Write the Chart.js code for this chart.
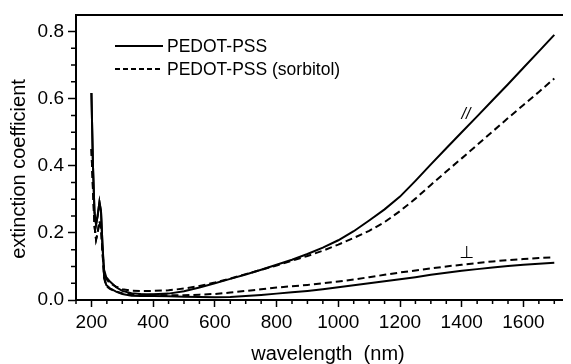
<!DOCTYPE html>
<html>
<head>
<meta charset="utf-8">
<script src="https://cdn.jsdelivr.net/npm/chart.js@4.4.0/dist/chart.umd.min.js"></script>
<style>
  html, body { margin: 0; padding: 0; background: #fff; }
  #grafico { display: block; }
</style>
</head>
<body>
<canvas id="grafico" width="571" height="364"></canvas>
<script>
// Comprimentos de onda (nm)
const comprimentos = [200, 205, 210, 215, 220, 226, 231, 236, 241, 248, 260, 280, 300, 330, 360,
  400, 450, 500, 550, 600, 650, 700, 750, 800, 850, 900, 950, 1000, 1050, 1100, 1150, 1200,
  1250, 1300, 1350, 1400, 1450, 1500, 1550, 1600, 1650, 1700];

// Coeficiente de extinção, direção paralela (//)
const paraleloPuro = [0.617, 0.40, 0.26, 0.225, 0.25, 0.292, 0.265, 0.16, 0.09, 0.068, 0.055, 0.038, 0.027, 0.02, 0.018,
  0.017, 0.019, 0.026, 0.037, 0.05, 0.063, 0.076, 0.09, 0.105, 0.12, 0.137, 0.156, 0.178, 0.205, 0.237, 0.27, 0.308,
  0.355, 0.404, 0.452, 0.5, 0.547, 0.595, 0.643, 0.692, 0.741, 0.79];
const paraleloSorbitol = [0.45, 0.33, 0.22, 0.18, 0.2, 0.235, 0.215, 0.14, 0.085, 0.063, 0.05, 0.04, 0.032, 0.028, 0.027,
  0.027, 0.029, 0.034, 0.042, 0.052, 0.064, 0.077, 0.09, 0.103, 0.117, 0.131, 0.147, 0.165, 0.185, 0.206, 0.232, 0.265,
  0.302, 0.343, 0.383, 0.422, 0.462, 0.502, 0.542, 0.581, 0.62, 0.66];

// Coeficiente de extinção, direção perpendicular (⊥)
const perpPuro = [0.617, 0.40, 0.26, 0.225, 0.25, 0.292, 0.265, 0.16, 0.07, 0.045, 0.035, 0.025, 0.018, 0.013, 0.012,
  0.012, 0.011, 0.01, 0.009, 0.008, 0.009, 0.012, 0.015, 0.019, 0.023, 0.027, 0.032, 0.038, 0.044, 0.05, 0.056, 0.062,
  0.068, 0.075, 0.081, 0.087, 0.092, 0.097, 0.101, 0.105, 0.108, 0.111];
const perpSorbitol = [0.45, 0.33, 0.22, 0.18, 0.2, 0.235, 0.215, 0.14, 0.065, 0.042, 0.033, 0.025, 0.02, 0.017, 0.016,
  0.016, 0.014, 0.014, 0.016, 0.018, 0.022, 0.027, 0.032, 0.037, 0.041, 0.045, 0.05, 0.055, 0.061, 0.068, 0.075, 0.082,
  0.088, 0.094, 0.1, 0.105, 0.11, 0.115, 0.119, 0.122, 0.125, 0.127];

// Nomes da legenda
const nomesSeries = ['PEDOT-PSS', 'PEDOT-PSS (sorbitol)'];

// Marcas dos eixos
const ticksX = [200, 400, 600, 800, 1000, 1200, 1400, 1600];
const ticksY = [0, 0.2, 0.4, 0.6, 0.8];
const menoresX = [150, 250, 300, 350, 450, 500, 550, 650, 700, 750, 850, 900, 950, 1050, 1100, 1150,
  1250, 1300, 1350, 1450, 1500, 1550, 1650, 1700];
const menoresY = [0.05, 0.1, 0.15, 0.25, 0.3, 0.35, 0.45, 0.5, 0.55, 0.65, 0.7, 0.75];

const fonte = '"Liberation Sans", Arial, sans-serif';
const tracejado = [7, 4];

function pontos(valores) {
  return comprimentos.map((x, i) => ({ x: x, y: valores[i] }));
}

function serie(valores, dash) {
  return {
    data: pontos(valores),
    borderColor: '#000',
    borderWidth: 2,
    borderDash: dash,
    pointRadius: 0,
    tension: 0,
    fill: false
  };
}

// Marcas menores, títulos dos eixos, legenda e rótulos // e ⊥
const extras = {
  id: 'extras',
  afterDraw(chart) {
    const ctx = chart.ctx;
    const sx = chart.scales.x;
    const sy = chart.scales.y;
    const area = chart.chartArea;

    ctx.save();
    ctx.strokeStyle = '#000';
    ctx.lineWidth = 1.5;
    ctx.beginPath();
    menoresX.forEach(v => {
      const px = sx.getPixelForValue(v);
      ctx.moveTo(px, area.bottom);
      ctx.lineTo(px, area.bottom + 4);
    });
    menoresY.forEach(v => {
      const py = sy.getPixelForValue(v);
      ctx.moveTo(area.left, py);
      ctx.lineTo(area.left - 5, py);
    });
    ctx.stroke();

    ctx.fillStyle = '#000';

    // título do eixo x
    ctx.font = '20px ' + fonte;
    ctx.textAlign = 'center';
    ctx.textBaseline = 'alphabetic';
    ctx.fillText('wavelength  (nm)', 328, 360);

    // título do eixo y
    ctx.save();
    ctx.translate(25, 169);
    ctx.rotate(-Math.PI / 2);
    ctx.font = '20px ' + fonte;
    ctx.fillText('extinction coefficient', 0, 0);
    ctx.restore();

    // legenda
    ctx.font = '17.5px ' + fonte;
    ctx.textAlign = 'left';
    ctx.textBaseline = 'middle';
    const linhas = [46, 69];
    nomesSeries.forEach((nome, i) => {
      const ds = chart.data.datasets[i];
      ctx.save();
      ctx.lineWidth = 2;
      ctx.setLineDash(i === 0 ? [] : [5, 3]);
      ctx.beginPath();
      ctx.moveTo(115, linhas[i]);
      ctx.lineTo(163, linhas[i]);
      ctx.strokeStyle = ds.borderColor;
      ctx.stroke();
      ctx.restore();
      ctx.fillText(nome, 167, linhas[i] + 1);
    });

    // rótulos das curvas
    ctx.textAlign = 'center';
    ctx.font = 'italic 16px ' + fonte;
    ctx.fillText('//', 466, 115);
    ctx.font = '17px "DejaVu Sans"';
    ctx.fillText('⊥', 467, 254);
    ctx.restore();
  }
};

const eixoComum = {
  grid: { drawOnChartArea: false, tickColor: '#000', tickWidth: 1.5 },
  border: { color: '#000', width: 2 }
};

new Chart(document.getElementById('grafico'), {
  type: 'line',
  data: {
    datasets: [
      serie(paraleloPuro, []),
      serie(paraleloSorbitol, tracejado),
      serie(perpPuro, []),
      serie(perpSorbitol, tracejado)
    ]
  },
  options: {
    responsive: false,
    animation: false,
    layout: { padding: { left: 0, right: 9, top: 14, bottom: 0 } },
    plugins: {
      legend: { display: false },
      tooltip: { enabled: false }
    },
    scales: {
      x: {
        type: 'linear',
        position: 'bottom',
        min: 150,
        max: 1725,
        afterFit: s => { s.height = 64; },
        afterBuildTicks: s => { s.ticks = ticksX.map(v => ({ value: v })); },
        grid: { ...eixoComum.grid, tickLength: 7 },
        border: eixoComum.border,
        ticks: {
          padding: 4,
          color: '#000',
          maxRotation: 0,
          autoSkip: false,
          font: { family: fonte, size: 19 },
          callback: v => String(v)
        }
      },
      xTopo: {
        type: 'linear',
        axis: 'x',
        position: 'top',
        min: 150,
        max: 1725,
        afterFit: s => { s.height = 0; },
        grid: { display: false },
        ticks: { display: false },
        border: eixoComum.border
      },
      y: {
        type: 'linear',
        min: 0,
        max: 0.848,
        afterFit: s => { s.width = 76; },
        afterBuildTicks: s => { s.ticks = ticksY.map(v => ({ value: v })); },
        grid: { ...eixoComum.grid, tickLength: 8 },
        border: eixoComum.border,
        ticks: {
          padding: 4,
          color: '#000',
          font: { family: fonte, size: 19 },
          callback: v => v.toFixed(1)
        }
      }
    }
  },
  plugins: [extras]
});
</script>
</body>
</html>
